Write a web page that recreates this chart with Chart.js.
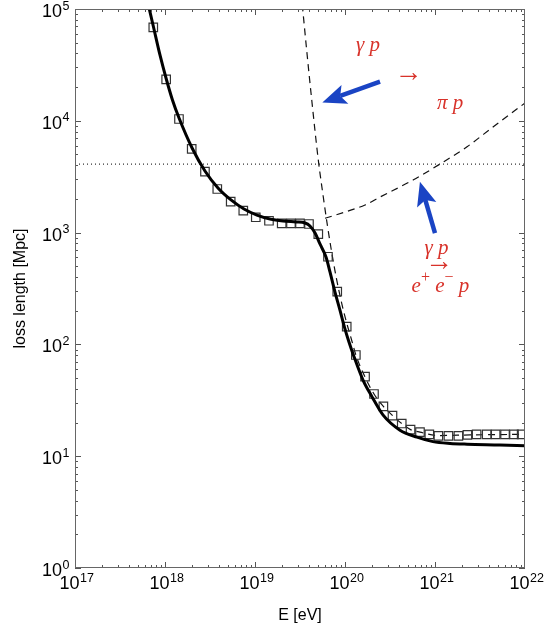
<!DOCTYPE html>
<html><head><meta charset="utf-8">
<script src="https://cdn.jsdelivr.net/npm/chart.js@4.4.1/dist/chart.umd.min.js"></script>
<style>html,body{margin:0;padding:0;background:#fff;overflow:hidden}</style>
</head><body>
<canvas id="c" width="544" height="625" style="width:544px;height:625px;display:block"></canvas>
<script>
// ---- axis ticks ----
const xTickValues = [1e17, 1e18, 1e19, 1e20, 1e21, 1e22];
const xTickExp = ['17', '18', '19', '20', '21', '22'];
const yTickValues = [1, 10, 100, 1000, 10000, 100000];
const yTickExp = ['0', '1', '2', '3', '4', '5'];

// ---- simulated points (squares) ----
const squareEnergy = [7.41e17, 1.03e18, 1.43e18, 1.98e18, 2.78e18, 3.81e18, 5.37e18, 7.41e18, 1.02e19, 1.43e19,
  1.98e19, 2.51e19, 3.16e19, 3.98e19, 5.05e19, 6.47e19, 8.20e19, 1.045e20, 1.32e20, 1.67e20,
  2.10e20, 2.67e20, 3.37e20, 4.27e20, 5.35e20, 6.81e20, 8.65e20, 1.09e21, 1.41e21, 1.82e21,
  2.29e21, 2.90e21, 3.75e21, 4.72e21, 6.00e21, 7.55e21, 9.18e21];
const squareLoss = [68500, 23500, 10380, 5600, 3510, 2455, 1890, 1570, 1371, 1276,
  1211, 1211, 1211, 1194, 970, 608, 296, 144, 80.4, 51.4,
  36.0, 27.9, 23.1, 19.6, 17.3, 16.4, 15.7, 15.2, 15.2, 15.2,
  15.5, 15.7, 15.7, 15.7, 15.7, 15.7, 15.7];

// ---- total loss length (solid) ----
const totalEnergy = [6.48e17, 7.45e17, 8.79e17, 1.026e18, 1.21e18, 1.432e18, 2.0e18, 2.78e18, 3.88e18, 5.41e18,
  7.55e18, 1.05e19, 1.47e19, 2.05e19, 2.86e19, 3.60e19, 4.08e19, 4.65e19, 5.27e19, 6.15e19,
  6.81e19, 7.74e19, 8.79e19, 9.86e19, 1.107e20, 1.26e20, 1.585e20, 2.0e20, 2.64e20, 4.08e20,
  6.31e20, 9.5e20, 1.47e21, 2.27e21, 5.27e21, 1e22];
const totalLoss = [112000, 69000, 38800, 24150, 15350, 10590, 5715, 3556, 2506, 1959,
  1626, 1435, 1324, 1271, 1245, 1219, 1146, 991, 791, 605,
  445, 294, 203, 143, 105, 77.6, 48, 33.9, 23.4, 17.1,
  14.8, 13.5, 13.0, 12.8, 12.6, 12.4];

// ---- pion production (dashed) ----
const pionEnergy = [3.35e19, 3.75e19, 4.27e19, 5.05e19, 5.74e19, 6.39e19, 7.11e19, 8.09e19, 9.18e19, 1.045e20,
  1.186e20, 1.32e20, 1.67e20, 2.10e20, 2.67e20, 3.37e20, 4.27e20, 5.35e20, 6.81e20, 1.08e21,
  2.45e21, 1e22];
const pionLoss = [110000, 42950, 15350, 4457, 2080, 1146, 670, 377, 234, 155,
  109, 80.4, 51, 36, 27.9, 23.1, 19.6, 17.3, 16.4, 15.3,
  15.5, 15.7];

// ---- pair production (dashed) ----
const pairEnergy = [6.0e19, 1e20, 1.67e20, 2.45e20, 5.7e20, 1.14e21, 2.27e21, 4.41e21, 1e22];
const pairLoss = [1343, 1528, 1766, 2080, 2951, 4111, 5861, 8810, 14420];

// ---- horizontal reference (dotted) ----
const refEnergy = [1e17, 1e22];
const refLoss = [4100, 4100];

// ---- annotations ----
const arrowTailE = [2.45e20, 1.0e21];
const arrowTailL = [22400, 991];
const arrowTipE = [5.6e19, 6.8e20];
const arrowTipL = [14600, 2850];
const labelTexts = ['γ p', '→', 'π p', 'γ p', '→', 'e+e−p'];
const labelE = [1.80e20, 5.08e20, 1.47e21, 1.04e21, 1.11e21, 1.15e21];
const labelL = [47200, 26600, 14400, 728, 535, 333];

const pts = (xs, ys) => xs.map((v, i) => ({x: v, y: ys[i]}));
const RED = '#d8322a', BLUE = '#1a44c4';
const SANS = '"Liberation Sans", Arial, Helvetica, sans-serif';
const SERIF = '"Liberation Serif", "DejaVu Serif", serif';

function drawArrow(ctx, x0, y0, x1, y1) {
  const len = Math.hypot(x1 - x0, y1 - y0);
  const ux = (x1 - x0) / len, uy = (y1 - y0) / len;
  const px = -uy, py = ux;
  const L = 24, W = 10, back = 5;
  ctx.strokeStyle = BLUE; ctx.fillStyle = BLUE;
  ctx.lineWidth = 4.5; ctx.lineCap = 'butt';
  ctx.beginPath();
  ctx.moveTo(x0, y0);
  ctx.lineTo(x1 - (L - back) * ux, y1 - (L - back) * uy);
  ctx.stroke();
  ctx.beginPath();
  ctx.moveTo(x1, y1);
  ctx.lineTo(x1 - L * ux + W * px, y1 - L * uy + W * py);
  ctx.lineTo(x1 - (L - back) * ux, y1 - (L - back) * uy);
  ctx.lineTo(x1 - L * ux - W * px, y1 - L * uy - W * py);
  ctx.closePath();
  ctx.fill();
}

function drawRich(ctx, text, cx, cy) {
  const base = 'italic 21px ' + SERIF;
  const sup = '16px ' + SERIF;
  const arr = '28px ' + SERIF;
  let segs;
  if (text === 'e+e−p') segs = [['e', 0], ['+', 1], [' e', 0], ['−', 1], [' p', 0]];
  else if (text === '→') segs = [['→', 2]];
  else segs = [[text, 0]];
  const fontOf = s => s === 0 ? base : (s === 1 ? sup : arr);
  let total = 0;
  segs.forEach(s => { ctx.font = fontOf(s[1]); total += ctx.measureText(s[0]).width; });
  let x = cx - total / 2;
  ctx.fillStyle = RED; ctx.textBaseline = 'middle'; ctx.textAlign = 'left';
  segs.forEach(s => {
    ctx.font = fontOf(s[1]);
    ctx.fillText(s[0], x, s[1] === 1 ? cy - 8 : cy);
    x += ctx.measureText(s[0]).width;
  });
}

function drawPow(ctx, exp, x, y, align) {
  // y is the baseline of "10"
  const big = '18px ' + SANS, small = '12.5px ' + SANS;
  ctx.font = big; const w1 = ctx.measureText('10').width;
  ctx.font = small; const w2 = ctx.measureText(exp).width;
  const left = align === 'center' ? x - (w1 + w2) / 2 : x - (w1 + w2);
  ctx.fillStyle = '#000'; ctx.textBaseline = 'alphabetic'; ctx.textAlign = 'left';
  ctx.font = big; ctx.fillText('10', left, y);
  ctx.font = small; ctx.fillText(exp, left + w1 + 0.5, y - 7.5);
}

const decor = {
  id: 'decor',
  afterDatasetsDraw(chart) {
    const {ctx, chartArea: a, scales: {x, y}} = chart;
    ctx.save();
    for (let i = 0; i < arrowTailE.length; i++) {
      drawArrow(ctx, x.getPixelForValue(arrowTailE[i]), y.getPixelForValue(arrowTailL[i]),
        x.getPixelForValue(arrowTipE[i]), y.getPixelForValue(arrowTipL[i]));
    }
    for (let i = 0; i < labelTexts.length; i++) {
      drawRich(ctx, labelTexts[i], x.getPixelForValue(labelE[i]), y.getPixelForValue(labelL[i]));
    }
    // tick labels
    xTickValues.forEach((v, i) => drawPow(ctx, xTickExp[i], x.getPixelForValue(v) + 1.5, a.bottom + 21, 'center'));
    yTickValues.forEach((v, i) => drawPow(ctx, yTickExp[i], a.left - 6, y.getPixelForValue(v) + 8, 'right'));
    // tick marks on all four sides
    ctx.strokeStyle = '#555'; ctx.lineWidth = 1;
    ctx.beginPath();
    for (let e = 17; e < 22; e++) {
      for (let k = 1; k < 10; k++) {
        const v = k * Math.pow(10, e);
        const p = Math.round(x.getPixelForValue(v)) + 0.5;
        const len = k === 1 ? 6 : 3;
        ctx.moveTo(p, a.bottom); ctx.lineTo(p, a.bottom - len);
        ctx.moveTo(p, a.top); ctx.lineTo(p, a.top + len);
      }
    }
    for (let e = 0; e < 5; e++) {
      for (let k = 1; k < 10; k++) {
        const v = k * Math.pow(10, e);
        const p = Math.round(y.getPixelForValue(v)) + 0.5;
        const len = k === 1 ? 6 : 3;
        ctx.moveTo(a.left, p); ctx.lineTo(a.left + len, p);
        ctx.moveTo(a.right, p); ctx.lineTo(a.right - len, p);
      }
    }
    ctx.stroke();
    ctx.strokeStyle = '#666';
    ctx.strokeRect(Math.round(a.left) + 0.5, Math.round(a.top) + 0.5,
      Math.round(a.right - a.left) - 1, Math.round(a.bottom - a.top) - 1);
    ctx.restore();
  }
};

const TFONT = {family: SANS, size: 16};

new Chart(document.getElementById('c'), {
  type: 'line',
  data: {
    datasets: [
      {label: 'total', data: pts(totalEnergy, totalLoss), borderColor: '#000', borderWidth: 3,
        pointRadius: 0, cubicInterpolationMode: 'monotone', order: 0},
      {label: 'simulation', data: pts(squareEnergy, squareLoss), showLine: false, pointStyle: 'rect',
        pointRadius: 6, pointBorderColor: '#333', pointBorderWidth: 1.2, pointBackgroundColor: 'rgba(0,0,0,0)', order: 1},
      {label: 'pion', data: pts(pionEnergy, pionLoss), borderColor: '#111', borderWidth: 1.2,
        borderDash: [7, 5], pointRadius: 0, cubicInterpolationMode: 'monotone', order: 2},
      {label: 'pair', data: pts(pairEnergy, pairLoss), borderColor: '#111', borderWidth: 1.2,
        borderDash: [7, 5], pointRadius: 0, cubicInterpolationMode: 'monotone', order: 3},
      {label: 'reference', data: pts(refEnergy, refLoss), borderColor: '#333', borderWidth: 1.2,
        borderDash: [1, 3], pointRadius: 0, order: 4}
    ]
  },
  options: {
    responsive: false,
    animation: false,
    devicePixelRatio: 1,
    layout: {padding: {top: 9, right: 19, left: 0, bottom: 0}},
    plugins: {legend: {display: false}, tooltip: {enabled: false}},
    scales: {
      x: {
        type: 'logarithmic', position: 'bottom', min: 1e17, max: 1e22,
        grid: {display: false, drawTicks: false}, border: {display: false},
        afterBuildTicks: s => { s.ticks = xTickValues.map(v => ({value: v, major: true})); },
        afterFit: s => { s.height = 57; },
        ticks: {display: false},
        title: {display: true, text: 'E [eV]', color: '#000', font: TFONT, padding: {top: 0, bottom: 0}}
      },
      y: {
        type: 'logarithmic', position: 'left', min: 1, max: 1e5,
        grid: {display: false, drawTicks: false}, border: {display: false},
        afterBuildTicks: s => { s.ticks = yTickValues.map(v => ({value: v, major: true})); },
        afterFit: s => { s.width = 75; },
        ticks: {display: false},
        title: {display: true, text: 'loss length [Mpc]', color: '#000', font: TFONT, padding: {top: 11, bottom: 0}}
      }
    }
  },
  plugins: [decor]
});
</script>
</body></html>
